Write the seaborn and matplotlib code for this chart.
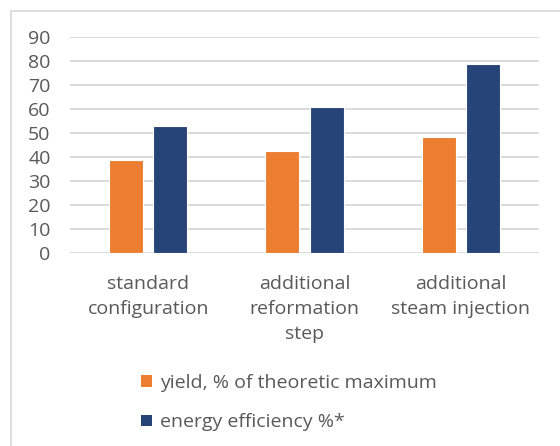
import matplotlib
matplotlib.use("Agg")
import matplotlib.pyplot as plt
import seaborn as sns
import pandas as pd
from matplotlib.lines import Line2D
from matplotlib.patches import Patch

categories = ["standard\nconfiguration", "additional\nreformation\nstep", "additional\nsteam injection"]
series_names = ["yield, % of theoretic maximum", "energy efficiency %*"]
yield_vals = [38.6, 42.4, 48.3]
energy_vals = [53.1, 61.0, 78.9]
yticks = [0, 10, 20, 30, 40, 50, 60, 70, 80, 90]
colors = ["#ED7D31", "#264478"]

df = pd.DataFrame({
    "category": categories * 2,
    "series": [series_names[0]] * 3 + [series_names[1]] * 3,
    "value": yield_vals + energy_vals,
})

sns.set_theme(style="white")
plt.rcParams["font.family"] = ["Open Sans", "DejaVu Sans"]
txt = "#595959"
fs = 14

fig = plt.figure(figsize=(5.6, 4.46), dpi=100)
W, H = 560, 446
ax = fig.add_axes([70 / W, (H - 253) / H, 469 / W, 216 / H])

sns.barplot(data=df, x="category", y="value", hue="series", palette=colors, saturation=1,
            width=0.564, gap=0.227, ax=ax, legend=False, edgecolor="white", linewidth=0.8)

ax.set_ylim(0, 90)
ax.set_xlim(-0.5, 2.5)
ax.set_yticks(yticks)
ax.set_yticklabels([str(t) for t in yticks], color=txt, fontsize=fs)
ax.set_xticks(range(3))
ax.set_xticklabels(categories, color=txt, fontsize=fs, linespacing=1.5, va="top")
ax.tick_params(axis="x", length=0, pad=15.5)
ax.tick_params(axis="y", length=0, pad=14)
ax.set_xlabel("")
ax.set_ylabel("")
for s in ax.spines.values():
    s.set_visible(False)
ax.yaxis.grid(True, color="#D9D9D9", linewidth=1.3)
ax.set_axisbelow(True)

# chart border
fig.add_artist(Line2D([10.5 / W, 10.5 / W], [0, (H - 11) / H], color="#D9D9D9", lw=1.2, transform=fig.transFigure))
fig.add_artist(Line2D([10.5 / W, 1], [(H - 11) / H, (H - 11) / H], color="#D9D9D9", lw=1.2, transform=fig.transFigure))

handles = [Patch(facecolor=c, edgecolor="none") for c in colors]
fig.legend(handles, series_names, loc="upper left", bbox_to_anchor=(141 / W, (H - 374) / H),
           frameon=False, fontsize=fs, labelcolor=txt, handlelength=0.55, handleheight=0.55,
           handletextpad=0.45, labelspacing=1.1, borderaxespad=0, borderpad=0)

fig.savefig("out.png", dpi=100, facecolor="white")
